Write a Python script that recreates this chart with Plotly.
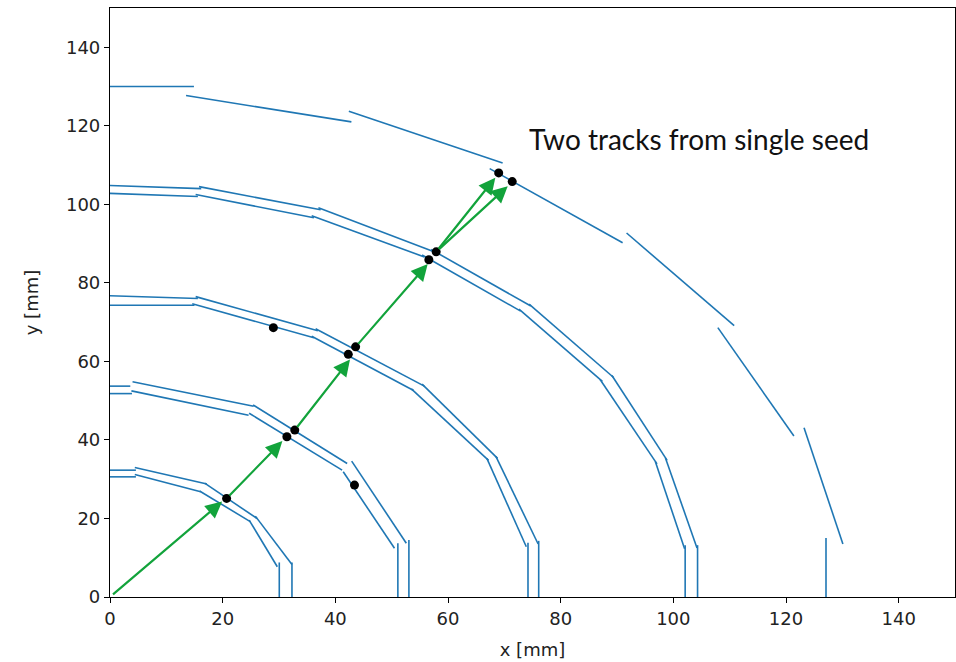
import plotly.graph_objects as go

# Detector staves, one tuple per stave: (x0, y0, x1, y1) in mm
layer1_outer = [
    (0.0, 32.3, 4.6, 32.3),
    (4.4, 33.0, 17.2, 28.8),
    (16.8, 29.0, 26.1, 20.0),
    (25.8, 20.6, 32.3, 8.3),
    (32.3, 8.8, 32.3, 0.0),
]
layer1_inner = [
    (0.0, 30.6, 4.6, 30.6),
    (4.4, 31.2, 16.1, 26.8),
    (15.9, 27.0, 24.9, 19.2),
    (24.7, 19.6, 29.7, 7.7),
    (30.05, 8.8, 30.05, 0.0),
]
layer2_outer = [
    (0.0, 53.7, 3.6, 53.7),
    (4.0, 54.8, 25.5, 48.6),
    (25.4, 48.9, 42.1, 34.0),
    (42.9, 34.6, 52.6, 13.7),
    (53.06, 14.5, 53.06, 0.0),
]
layer2_inner = [
    (0.0, 51.8, 3.9, 51.8),
    (3.8, 52.5, 24.6, 46.3),
    (24.7, 46.8, 41.2, 32.3),
    (41.4, 31.9, 50.5, 12.4),
    (51.1, 13.7, 51.1, 0.0),
]
layer3_outer = [
    (0.0, 76.7, 15.6, 76.0),
    (15.2, 76.5, 36.9, 67.8),
    (36.5, 68.3, 55.8, 53.7),
    (55.4, 54.2, 68.8, 35.3),
    (68.5, 35.8, 76.0, 13.5),
    (76.1, 14.3, 76.1, 0.0),
]
layer3_inner = [
    (0.0, 74.3, 15.0, 74.3),
    (14.6, 74.7, 36.2, 66.0),
    (35.8, 66.4, 53.9, 52.6),
    (53.5, 53.0, 67.2, 34.8),
    (66.9, 35.3, 73.9, 12.8),
    (74.2, 13.8, 74.2, 0.0),
]
layer4_outer = [
    (0.0, 104.8, 16.2, 104.0),
    (15.8, 104.5, 37.4, 98.6),
    (37.0, 99.1, 57.4, 88.0),
    (57.0, 88.5, 74.7, 74.1),
    (74.4, 74.6, 89.4, 55.9),
    (89.1, 56.4, 98.9, 34.8),
    (98.6, 35.4, 104.2, 12.5),
    (104.3, 13.2, 104.3, 0.0),
]
layer4_inner = [
    (0.0, 102.8, 15.6, 102.0),
    (15.2, 102.5, 36.2, 96.6),
    (35.8, 97.1, 55.8, 86.6),
    (55.4, 87.1, 72.9, 72.8),
    (72.6, 73.3, 87.4, 54.9),
    (87.0, 55.4, 97.1, 33.9),
    (96.8, 34.5, 102.0, 12.3),
    (102.1, 13.2, 102.1, 0.0),
]
layer5 = [
    (0.0, 130.0, 14.9, 130.0),
    (13.5, 127.7, 42.85, 121.0),
    (42.4, 123.7, 69.7, 110.5),
    (67.4, 109.1, 91.0, 90.2),
    (91.7, 92.7, 110.8, 69.1),
    (107.9, 68.6, 121.4, 41.0),
    (123.2, 43.1, 130.1, 13.5),
    (127.1, 15.0, 127.1, 0.0),
]

# Reconstructed hits
hits_x = [20.7, 31.4, 32.8, 29.0, 42.3, 43.6, 43.4, 56.6, 57.9, 69.0, 71.4]
hits_y = [25.1, 40.8, 42.5, 68.6, 61.8, 63.7, 28.5, 85.9, 87.9, 108.0, 105.8]

# Seed propagation arrows: tail -> head
arrow_tail_x = [0.0, 20.7, 32.8, 43.6, 57.9, 57.9]
arrow_tail_y = [0.0, 25.1, 42.5, 63.7, 87.9, 87.9]
arrow_head_x = [19.9, 30.6, 42.6, 56.4, 68.4, 70.6]
arrow_head_y = [24.3, 39.7, 60.5, 84.8, 106.8, 104.6]

x_ticks = [0, 20, 40, 60, 80, 100, 120, 140]
y_ticks = [0, 20, 40, 60, 80, 100, 120, 140]

BLUE = "#1f77b4"
GREEN = "#12a33b"
TEXT = "#222222"

layers = [layer1_outer, layer1_inner, layer2_outer, layer2_inner,
          layer3_outer, layer3_inner, layer4_outer, layer4_inner, layer5]

fig = go.Figure()

seg_x, seg_y = [], []
for layer in layers:
    for x0, y0, x1, y1 in layer:
        seg_x += [x0, x1, None]
        seg_y += [y0, y1, None]

fig.add_trace(go.Scatter(
    x=seg_x, y=seg_y, mode="lines",
    line=dict(color=BLUE, width=1.6),
    hoverinfo="skip", showlegend=False,
))

fig.add_trace(go.Scatter(
    x=hits_x, y=hits_y, mode="markers",
    marker=dict(color="black", size=9),
    showlegend=False,
))

for tx, ty, hx, hy in zip(arrow_tail_x, arrow_tail_y, arrow_head_x, arrow_head_y):
    fig.add_annotation(
        x=hx, y=hy, ax=tx, ay=ty,
        xref="x", yref="y", axref="x", ayref="y",
        text="", showarrow=True,
        arrowhead=2, arrowsize=1.5, arrowwidth=2.2,
        arrowcolor=GREEN, startstandoff=2, standoff=0,
    )

fig.add_annotation(
    x=74.0, y=116.6, xref="x", yref="y",
    text="Two tracks from single seed", showarrow=False,
    xanchor="left", yanchor="middle",
    font=dict(family="Lato", size=28, color="#111111"),
)

axis_common = dict(
    range=[0, 150], showgrid=False, zeroline=False,
    showline=True, mirror=True, linecolor="black", linewidth=1.2,
    ticks="outside", ticklen=5, tickwidth=1.2, tickcolor="black",
    tickfont=dict(family="DejaVu Sans", size=18, color=TEXT),
)

fig.update_xaxes(
    tickvals=x_ticks, ticktext=[str(v) for v in x_ticks],
    title=dict(text="x [mm]", font=dict(family="DejaVu Sans", size=18, color=TEXT), standoff=15),
    **axis_common,
)
fig.update_yaxes(
    tickvals=y_ticks, ticktext=[str(v) for v in y_ticks],
    title=dict(text="y [mm]", font=dict(family="DejaVu Sans", size=18, color=TEXT), standoff=22),
    **axis_common,
)

fig.update_layout(
    width=956, height=662,
    margin=dict(l=110, r=1, t=8, b=65),
    paper_bgcolor="white", plot_bgcolor="white",
    showlegend=False,
)

fig.write_html("out.html")
